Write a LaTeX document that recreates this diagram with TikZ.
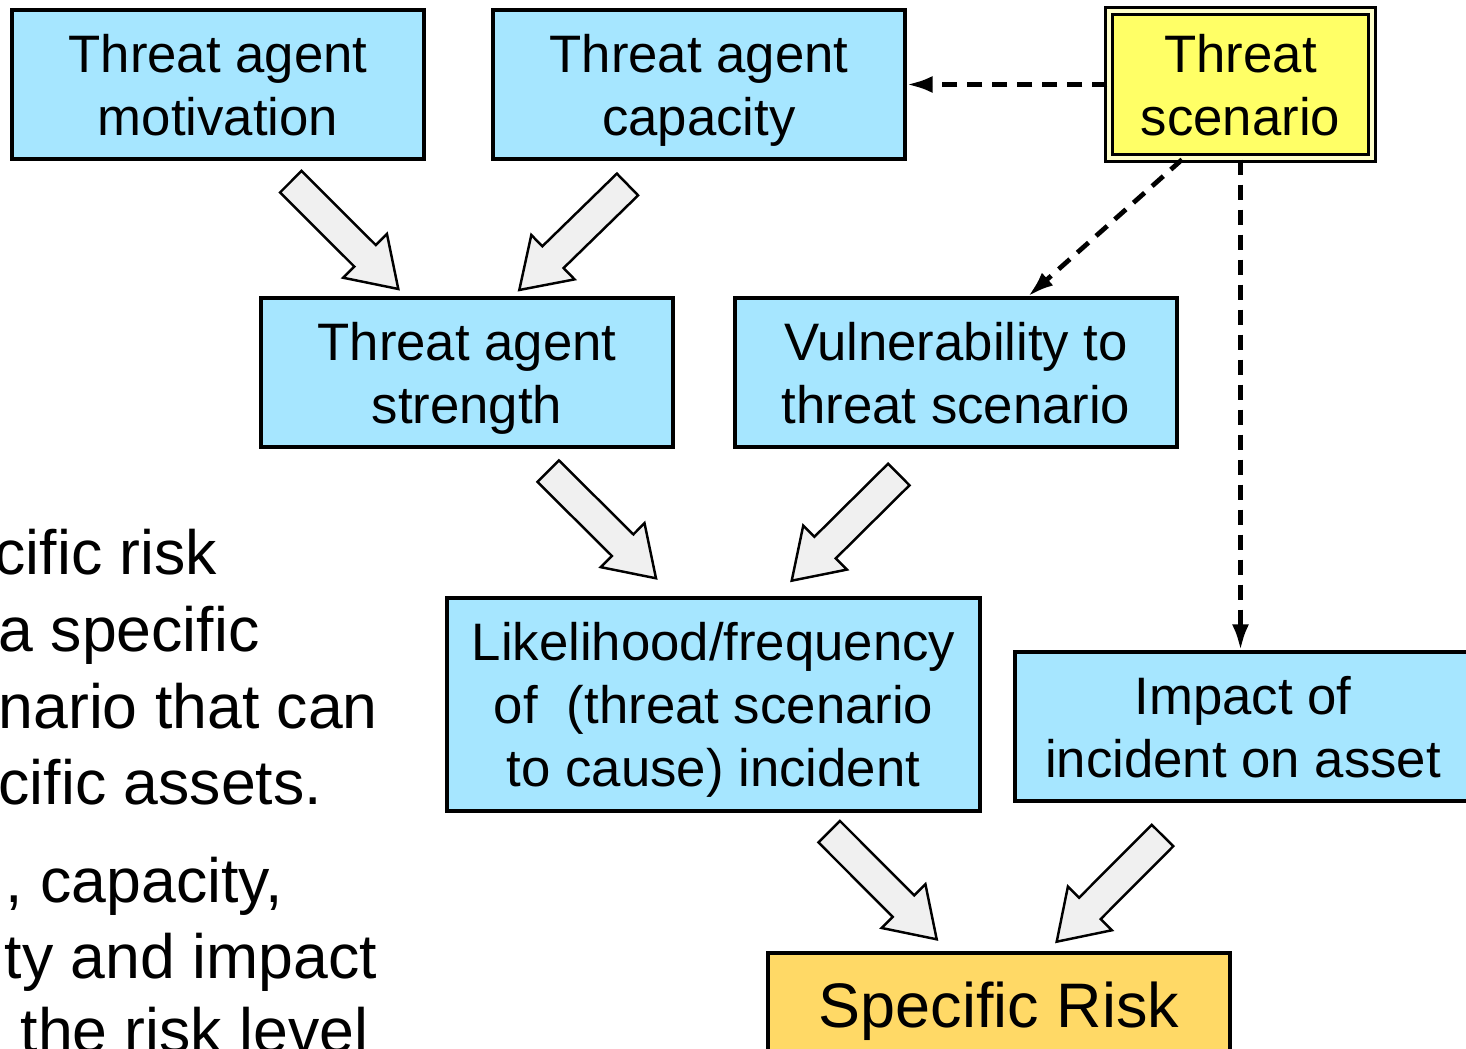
\documentclass[tikz,border=0pt]{standalone}
\usepackage{fontspec}
\setmainfont{Liberation Sans}
\usepackage{tikz}
\usetikzlibrary{positioning,calc,arrows.meta}
\definecolor{boxblue}{RGB}{166,230,255}
\definecolor{scenyellow}{RGB}{255,255,102}
\definecolor{riskgold}{RGB}{255,217,102}
\tikzset{box/.style = {draw,line width=0.9pt,fill=boxblue,align=center,inner sep=0pt,text depth=0pt,
                       font=\fontsize{15}{17.9}\selectfont,minimum width=4.12cm,minimum height=1.49cm}}
\tikzset{scenbox/.style = {box,fill=scenyellow,double=scenyellow!35!white,double distance=0.9pt,
                           minimum width=2.63cm,minimum height=1.47cm}}
\tikzset{riskbox/.style = {box,fill=riskgold,font=\fontsize{17.9}{21}\selectfont,minimum width=4.62cm,minimum height=1.03cm}}
\tikzset{fatarrow/.style = {draw,line width=0.7pt,fill=black!6,line join=miter}}
\tikzset{dasharrow/.style = {line width=1.35pt,dash pattern=on 0.15cm off 0.1cm,-{Latex[length=0.26cm,width=0.17cm]}}}
\tikzset{sidetext/.style = {anchor=base west,inner sep=0pt,font=\fontsize{17.8}{21}\selectfont}}
% block arrow from #1 (tail) to #2 (tip)
\newcommand{\fatarrow}[2]{%
  \coordinate (fa-base) at ($(#2)!0.47cm!(#1)$);
  \draw [fatarrow] ($(#1)!0.152cm!90:(#2)$) -- ($(fa-base)!0.152cm!90:(#2)$) -- ($(fa-base)!0.31cm!90:(#2)$)
    -- (#2) -- ($(fa-base)!0.31cm!-90:(#2)$) -- ($(fa-base)!0.152cm!-90:(#2)$) -- ($(#1)!0.152cm!-90:(#2)$) -- cycle;}

\begin{document}
\begin{tikzpicture}
    \useasboundingbox (0,0) rectangle (14.66,-10.49);
    \clip (0,0) rectangle (14.66,-10.49);

    % boxes
    \node [box] (mot) at (2.18,-0.845) {Threat agent\\motivation};
    \node [box] (cap) at (6.99,-0.845) {Threat agent\\capacity};
    \node [scenbox] (scen) at (12.405,-0.845) {Threat\\scenario};
    \node [box] (str) at (4.67,-3.725) {Threat agent\\strength};
    \node [box,minimum width=4.42cm] (vul) at (9.56,-3.725) {Vulnerability to\\threat scenario};
    \node [box,minimum width=5.33cm,minimum height=2.13cm] (lik) at (7.135,-7.045) {Likelihood/frequency\\of~ (threat scenario\\to cause) incident};
    \node [box,minimum width=4.56cm] (imp) at (12.43,-7.265) {Impact of\\incident on asset};
    \node [riskbox] (risk) at (9.99,-10.045) {Specific Risk};

    % text on the left, cut by the frame
    \node [sidetext] (t1) at (-0.06,-5.75) {cific risk};
    \node [sidetext] (t2) at (-0.02,-6.52) {a specific};
    \node [sidetext] (t3) at (-0.02,-7.29) {nario that can};
    \node [sidetext] (t4) at (-0.02,-8.05) {cific assets.};
    \node [sidetext] (t5) at (0.05,-9.03) {, capacity,};
    \node [sidetext] (t6) at (0.04,-9.79) {ty and impact};
    \node [sidetext] (t7) at (0.2,-10.53) {the risk level};

    % block arrows
    \coordinate (a1t) at (2.908,-1.817);  \coordinate (a1h) at (3.983,-2.890);
    \coordinate (a2t) at (6.275,-1.845);  \coordinate (a2h) at (5.193,-2.900);
    \coordinate (a3t) at (5.482,-4.712);  \coordinate (a3h) at (6.560,-5.783);
    \coordinate (a4t) at (8.988,-4.745);  \coordinate (a4h) at (7.917,-5.807);
    \coordinate (a5t) at (8.292,-8.317);  \coordinate (a5h) at (9.367,-9.393);
    \coordinate (a6t) at (11.625,-8.355); \coordinate (a6h) at (10.567,-9.417);
    \fatarrow{a1t}{a1h}
    \fatarrow{a2t}{a2h}
    \fatarrow{a3t}{a3h}
    \fatarrow{a4t}{a4h}
    \fatarrow{a5t}{a5h}
    \fatarrow{a6t}{a6h}

    % dashed links from the scenario
    \draw [dasharrow] (scen.west) -- (cap.east);
    \draw [dasharrow] ($(scen.south)+(-0.585,0)$) -- ($(vul.north)+(0.72,0)$);
    \draw [dasharrow] (scen.south) -- (scen.south |- imp.north);
\end{tikzpicture}
\end{document}
